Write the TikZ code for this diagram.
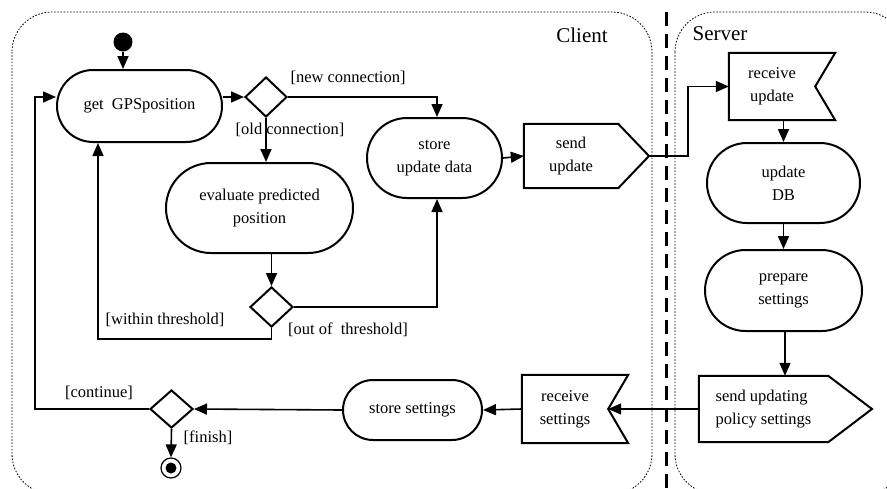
\documentclass[tikz,border=0pt]{standalone}
\usepackage{fontspec}
\setmainfont{Liberation Serif}
\usetikzlibrary{arrows.meta,shapes.misc,shapes.geometric,calc}
\begin{document}
\begin{tikzpicture}[x=1pt,y=-1pt,
  txt/.style={font=\fontsize{16.5}{23}\selectfont},
  act/.style={rounded rectangle, draw, line width=2pt, inner sep=0pt, align=center, txt},
  box/.style={rectangle, inner sep=0pt, align=center, txt},
  dec/.style={diamond, draw, line width=2pt, inner sep=0pt},
  arr/.style={line width=1.6pt, -{Triangle[length=13pt,width=11pt]}},
  con/.style={line width=1.6pt},
  lbl/.style={txt, inner sep=0pt},
  frame/.style={dash pattern=on 1.6pt off 1.6pt, line width=0.8pt, rounded corners=40pt},
  sig/.style={draw, line width=2pt, line join=miter}
]
\useasboundingbox (0,0) rectangle (887,488);
\clip (0,0) rectangle (887,488);
% frames
\draw[frame] (12,12) rectangle (652,494);
\draw[frame] (675,12) rectangle (905,494);
\draw[line width=3pt, dash pattern=on 14pt off 8pt] (666,12) -- (666,488);
\node[font=\fontsize{21}{24}\selectfont, inner sep=0pt] (client) at (582,35) {Client};
\node[font=\fontsize{21}{24}\selectfont, inner sep=0pt] (server) at (720,34) {Server};

% client nodes
\node[circle, fill, minimum size=19pt, inner sep=0pt] (init) at (123,42) {};
\node[act, minimum width=165pt, minimum height=72pt] (gps) at (139.5,106) {get\ \ GPSposition};
\node[dec, minimum width=42pt, minimum height=40pt] (d1) at (266,97) {};
\node[act, minimum width=135pt, minimum height=80pt] (store) at (434.5,158) {store\\update data};
\node[act, minimum width=187pt, minimum height=90pt] (eval) at (259.5,208) {evaluate predicted\\position};
\node[dec, minimum width=43pt, minimum height=40pt] (d2) at (271.5,307) {};
\node[dec, minimum width=43pt, minimum height=38pt] (d3) at (171.5,409) {};
\node[circle, draw, line width=1.2pt, minimum size=20pt, inner sep=0pt] (final) at (171,468) {};
\fill (final.center) circle (5.5);
\node[act, minimum width=139pt, minimum height=60pt] (storeset) at (412.5,410) {store settings};

% signal shapes
\node[box, minimum width=94pt, minimum height=64pt] (sendup) at (571,156) {send\\update};
\coordinate (sendupTip) at (649,156);
\draw[sig] (sendup.north west) -- (sendup.north east) -- (sendupTip) -- (sendup.south east) -- (sendup.south west) -- cycle;

\node[box, minimum width=86pt, minimum height=67pt] (recvup) at (772,86.5) {receive\\update};
\draw[sig] (recvup.north west) -- ($(recvup.north east)+(20,0)$) -- (recvup.east) -- ($(recvup.south east)+(20,0)$) -- (recvup.south west) -- cycle;

\node[box, minimum width=86pt, minimum height=68pt] (recvset) at (565,409) {receive\\settings};
\draw[sig] (recvset.north west) -- ($(recvset.north east)+(20,0)$) -- (recvset.east) -- ($(recvset.south east)+(20,0)$) -- (recvset.south west) -- cycle;

\node[box, align=left, minimum width=129pt, minimum height=66pt] (sendpol) at (763.5,409) {send updating\\policy settings};
\coordinate (sendpolTip) at (872,409);
\draw[sig] (sendpol.north west) -- (sendpol.north east) -- (sendpolTip) -- (sendpol.south east) -- (sendpol.south west) -- cycle;

% server nodes
\node[act, minimum width=153pt, minimum height=80pt] (updb) at (783.5,183) {update\\DB};
\node[act, minimum width=157pt, minimum height=81pt] (prep) at (783.5,290.5) {prepare\\settings};

% connectors
\draw[arr] (init.south) -- (init.south |- gps.north);
\draw[arr] (gps.east |- d1.west) -- (d1.west);
\draw[arr] (d1.east) -| ([xshift=2.5pt]store.north);
\draw[arr] (d1.south) -- (d1.south |- eval.north);
\draw[arr] (d2.north |- eval.south) -- (d2.north);
\draw[arr] (d2.east) -| ([xshift=2.5pt]store.south);
\draw[arr] (d2.south) -- ++(0,11) -| ([xshift=-41.5pt]gps.south);
\draw[arr] (d3.west) -- (35,409) |- (gps.west |- d1.west);
\draw[arr] (d3.south) -- (final.north);
\draw[arr] (storeset.west) -- (d3.east);
\draw[arr] (recvset.west) -- (storeset.east);
\draw[arr] (sendpol.west) -- (recvset.east);
\draw[arr] ([xshift=1.5pt]prep.south) -- ([xshift=1.5pt]prep.south |- sendpol.north);
\draw[arr] (updb.south) -- (prep.north);
\draw[arr] (updb.north |- recvup.south) -- (updb.north);
\draw[arr] (store.east) -- (sendup.west);
\draw[arr] (sendupTip) -- (688,156) |- (recvup.west);

% guard labels
\node[lbl] (lnew) at (348,78) {[new connection]};
\node[lbl] (lold) at (290,130) {[old connection]};
\node[lbl] (lwithin) at (165,320) {[within threshold]};
\node[lbl] (lout) at (348,330) {[out of\ \ threshold]};
\node[lbl] (lcont) at (99,393) {[continue]};
\node[lbl] (lfin) at (208,438) {[finish]};
\end{tikzpicture}
\end{document}
